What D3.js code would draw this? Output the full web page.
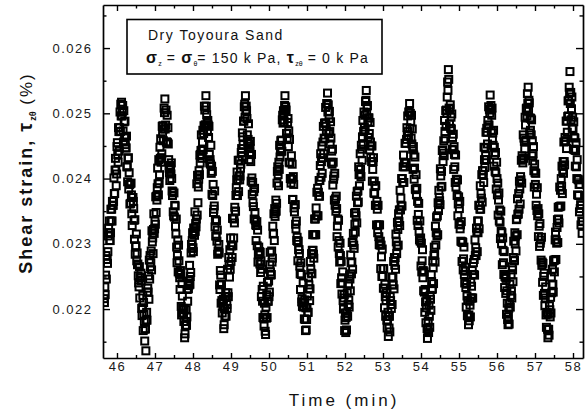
<!DOCTYPE html>
<html>
<head>
<meta charset="utf-8">
<script src="https://cdn.jsdelivr.net/npm/d3@7"></script>
<style>
  html, body { margin: 0; padding: 0; background: #fff; }
  svg { display: block; font-family: "Liberation Sans", Arial, Helvetica, sans-serif; }
</style>
</head>
<body>
<svg id="chart" width="586" height="414"></svg>
<script>
// Shear strain record: [time (min), shear strain in units of 1e-5 %]
const samples = [
[45.66,2216],[45.67,2210],[45.68,2234],[45.69,2222],[45.70,2252],[45.71,2282],[45.72,2246],[45.73,2276],[45.74,2276],[45.75,2270],[45.76,2288],[45.77,2312],[45.78,2324],[45.79,2317],[45.80,2335],[45.81,2305],[45.82,2305],[45.83,2317],[45.84,2353],[45.85,2335],[45.86,2353],[45.87,2335],[45.88,2365],[45.89,2359],[45.90,2359],[45.91,2365],[45.92,2401],[45.93,2377],[45.94,2377],[45.95,2413],[45.96,2431],[45.97,2413],[45.98,2389],[45.99,2407],[46.00,2449],[46.01,2455],[46.02,2437],[46.03,2425],[46.04,2478],[46.05,2472],[46.06,2442],[46.07,2478],[46.08,2502],[46.09,2472],[46.10,2514],[46.11,2496],[46.12,2517],[46.13,2496],
[46.14,2502],[46.15,2512],[46.16,2473],[46.17,2456],[46.18,2504],[46.19,2487],[46.20,2463],[46.21,2488],[46.22,2452],[46.23,2447],[46.24,2447],[46.25,2465],[46.26,2418],[46.27,2418],[46.28,2395],[46.29,2431],[46.30,2432],[46.31,2384],[46.32,2409],[46.33,2391],[46.34,2361],[46.35,2392],[46.36,2362],[46.37,2393],[46.38,2375],[46.39,2346],[46.40,2328],[46.41,2371],[46.42,2371],[46.43,2365],[46.44,2354],[46.45,2336],[46.46,2307],[46.47,2337],[46.48,2284],[46.49,2296],[46.50,2297],[46.51,2315],[46.52,2274],[46.53,2286],[46.54,2268],[46.55,2269],[46.56,2251],[46.57,2240],[46.58,2234],[46.59,2265],[46.60,2217],[46.61,2248],[46.62,2248],[46.63,2255],[46.64,2243],[46.65,2201],[46.66,2190],[46.67,2202],[46.68,2221],[46.69,2167],[46.70,2210],[46.71,2192],[46.72,2181],[46.73,2151],
[46.74,2169],[46.75,2170],[46.76,2136],[46.77,2183],[46.78,2195],[46.79,2183],[46.80,2226],[46.81,2232],[46.82,2226],[46.83,2251],[46.84,2215],[46.85,2275],[46.86,2246],[46.87,2282],[46.88,2265],[46.89,2271],[46.90,2289],[46.91,2260],[46.92,2320],[46.93,2303],[46.94,2309],[46.95,2285],[46.96,2322],[46.97,2346],[46.98,2316],[46.99,2323],[47.00,2335],[47.01,2330],[47.02,2372],[47.03,2348],[47.04,2373],[47.05,2367],[47.06,2386],[47.07,2416],[47.08,2392],[47.09,2375],[47.10,2429],[47.11,2393],[47.12,2406],[47.13,2448],[47.14,2431],[47.15,2461],[47.16,2425],[47.17,2432],[47.18,2438],[47.19,2480],[47.20,2469],[47.21,2481],[47.22,2458],[47.23,2476],[47.24,2508],[47.25,2501],[47.26,2522],
[47.27,2476],[47.28,2482],[47.29,2505],[47.30,2456],[47.31,2456],[47.32,2497],[47.33,2455],[47.34,2478],[47.35,2453],[47.36,2429],[47.37,2416],[47.38,2409],[47.39,2397],[47.40,2420],[47.41,2414],[47.42,2407],[47.43,2424],[47.44,2400],[47.45,2381],[47.46,2374],[47.47,2380],[47.48,2349],[47.49,2343],[47.50,2378],[47.51,2341],[47.52,2359],[47.53,2358],[47.54,2327],[47.55,2315],[47.56,2338],[47.57,2295],[47.58,2271],[47.59,2282],[47.60,2306],[47.61,2257],[47.62,2298],[47.63,2274],[47.64,2255],[47.65,2248],[47.66,2230],[47.67,2259],[47.68,2253],[47.69,2204],[47.70,2191],[47.71,2239],[47.72,2220],[47.73,2201],[47.74,2201],[47.75,2194],[47.76,2181],[47.77,2199],[47.78,2156],
[47.79,2162],[47.80,2175],[47.81,2181],[47.82,2199],[47.83,2175],[47.84,2188],[47.85,2230],[47.86,2212],[47.87,2236],[47.88,2231],[47.89,2243],[47.90,2237],[47.91,2267],[47.92,2238],[47.93,2250],[47.94,2256],[47.95,2286],[47.96,2299],[47.97,2293],[47.98,2305],[47.99,2317],[48.00,2294],[48.01,2288],[48.02,2324],[48.03,2324],[48.04,2313],[48.05,2349],[48.06,2319],[48.07,2331],[48.08,2326],[48.09,2338],[48.10,2392],[48.11,2344],[48.12,2405],[48.13,2363],[48.14,2387],[48.15,2399],[48.16,2412],[48.17,2406],[48.18,2436],[48.19,2424],[48.20,2437],[48.21,2443],[48.22,2467],[48.23,2431],[48.24,2444],[48.25,2456],[48.26,2474],[48.27,2444],[48.28,2469],[48.29,2481],[48.30,2511],[48.31,2505],[48.32,2482],[48.33,2482],[48.34,2527],
[48.35,2511],[48.36,2498],[48.37,2485],[48.38,2472],[48.39,2489],[48.40,2482],[48.41,2463],[48.42,2480],[48.43,2437],[48.44,2424],[48.45,2429],[48.46,2422],[48.47,2451],[48.48,2408],[48.49,2419],[48.50,2376],[48.51,2411],[48.52,2374],[48.53,2391],[48.54,2348],[48.55,2353],[48.56,2358],[48.57,2381],[48.58,2326],[48.59,2337],[48.60,2312],[48.61,2312],[48.62,2335],[48.63,2304],[48.64,2321],[48.65,2284],[48.66,2289],[48.67,2288],[48.68,2299],[48.69,2286],[48.70,2237],[48.71,2230],[48.72,2259],[48.73,2252],[48.74,2209],[48.75,2238],[48.76,2213],[48.77,2194],[48.78,2211],[48.79,2204],[48.80,2215],[48.81,2170],[48.82,2176],
[48.83,2201],[48.84,2189],[48.85,2219],[48.86,2225],[48.87,2189],[48.88,2219],[48.89,2207],[48.90,2201],[48.91,2261],[48.92,2225],[48.93,2219],[48.94,2279],[48.95,2267],[48.96,2249],[48.97,2291],[48.98,2261],[48.99,2309],[49.00,2273],[49.01,2297],[49.02,2297],[49.03,2279],[49.04,2339],[49.05,2297],[49.06,2339],[49.07,2309],[49.08,2338],[49.09,2332],[49.10,2356],[49.11,2350],[49.12,2350],[49.13,2374],[49.14,2386],[49.15,2398],[49.16,2410],[49.17,2374],[49.18,2398],[49.19,2428],[49.20,2380],[49.21,2404],[49.22,2428],[49.23,2398],[49.24,2404],[49.25,2416],[49.26,2422],[49.27,2440],[49.28,2446],[49.29,2434],[49.30,2470],[49.31,2464],[49.32,2452],[49.33,2488],[49.34,2488],[49.35,2510],[49.36,2514],[49.37,2494],[49.38,2527],
[49.39,2505],[49.40,2511],[49.41,2504],[49.42,2492],[49.43,2467],[49.44,2455],[49.45,2460],[49.46,2484],[49.47,2453],[49.48,2429],[49.49,2440],[49.50,2446],[49.51,2457],[49.52,2426],[49.53,2396],[49.54,2437],[49.55,2401],[49.56,2376],[49.57,2394],[49.58,2363],[49.59,2357],[49.60,2380],[49.61,2338],[49.62,2385],[49.63,2348],[49.64,2336],[49.65,2329],[49.66,2305],[49.67,2328],[49.68,2334],[49.69,2297],[49.70,2321],[49.71,2272],[49.72,2284],[49.73,2295],[49.74,2283],[49.75,2288],[49.76,2269],[49.77,2287],[49.78,2256],[49.79,2274],[49.80,2219],[49.81,2261],[49.82,2230],[49.83,2212],[49.84,2187],[49.85,2235],[49.86,2186],[49.87,2174],[49.88,2209],[49.89,2191],[49.90,2166],
[49.91,2161],[49.92,2203],[49.93,2186],[49.94,2222],[49.95,2187],[49.96,2241],[49.97,2212],[49.98,2212],[49.99,2243],[50.00,2219],[50.01,2226],[50.02,2268],[50.03,2287],[50.04,2257],[50.05,2252],[50.06,2253],[50.07,2289],[50.08,2272],[50.09,2278],[50.10,2327],[50.11,2315],[50.12,2316],[50.13,2346],[50.14,2305],[50.15,2354],[50.16,2342],[50.17,2349],[50.18,2367],[50.19,2350],[50.20,2362],[50.21,2393],[50.22,2411],[50.23,2418],[50.24,2406],[50.25,2389],[50.26,2425],[50.27,2414],[50.28,2451],[50.29,2433],[50.30,2446],[50.31,2458],[50.32,2441],[50.33,2459],[50.34,2442],[50.35,2490],[50.36,2497],[50.37,2485],[50.38,2504],[50.39,2498],[50.40,2487],[50.41,2512],[50.42,2527],
[50.43,2506],[50.44,2510],[50.45,2505],[50.46,2469],[50.47,2469],[50.48,2462],[50.49,2486],[50.50,2492],[50.51,2449],[50.52,2473],[50.53,2425],[50.54,2460],[50.55,2424],[50.56,2400],[50.57,2400],[50.58,2393],[50.59,2435],[50.60,2399],[50.61,2422],[50.62,2368],[50.63,2368],[50.64,2403],[50.65,2391],[50.66,2355],[50.67,2349],[50.68,2360],[50.69,2360],[50.70,2330],[50.71,2323],[50.72,2335],[50.73,2305],[50.74,2310],[50.75,2304],[50.76,2274],[50.77,2304],[50.78,2291],[50.79,2291],[50.80,2285],[50.81,2266],[50.82,2254],[50.83,2230],[50.84,2271],[50.85,2253],[50.86,2211],[50.87,2216],[50.88,2204],[50.89,2210],[50.90,2240],[50.91,2203],[50.92,2209],[50.93,2185],[50.94,2214],[50.95,2184],[50.96,2167],
[50.97,2202],[50.98,2168],[50.99,2184],[51.00,2202],[51.01,2220],[51.02,2195],[51.03,2195],[51.04,2249],[51.05,2237],[51.06,2231],[51.07,2213],[51.08,2231],[51.09,2273],[51.10,2261],[51.11,2255],[51.12,2285],[51.13,2254],[51.14,2290],[51.15,2314],[51.16,2290],[51.17,2284],[51.18,2278],[51.19,2314],[51.20,2338],[51.21,2314],[51.22,2338],[51.23,2314],[51.24,2355],[51.25,2343],[51.26,2379],[51.27,2343],[51.28,2385],[51.29,2343],[51.30,2379],[51.31,2373],[51.32,2397],[51.33,2373],[51.34,2397],[51.35,2420],[51.36,2438],[51.37,2402],[51.38,2426],[51.39,2450],[51.40,2408],[51.41,2432],[51.42,2456],[51.43,2480],[51.44,2438],[51.45,2462],[51.46,2485],[51.47,2461],[51.48,2485],[51.49,2509],[51.50,2485],[51.51,2473],[51.52,2515],[51.53,2515],[51.54,2531],
[51.55,2502],[51.56,2513],[51.57,2469],[51.58,2492],[51.59,2503],[51.60,2472],[51.61,2453],[51.62,2487],[51.63,2462],[51.64,2425],[51.65,2442],[51.66,2422],[51.67,2445],[51.68,2390],[51.69,2425],[51.70,2399],[51.71,2404],[51.72,2367],[51.73,2408],[51.74,2359],[51.75,2369],[51.76,2350],[51.77,2373],[51.78,2354],[51.79,2311],[51.80,2327],[51.81,2338],[51.82,2295],[51.83,2336],[51.84,2305],[51.85,2285],[51.86,2272],[51.87,2301],[51.88,2282],[51.89,2239],[51.90,2273],[51.91,2248],[51.92,2223],[51.93,2240],[51.94,2257],[51.95,2213],[51.96,2200],[51.97,2217],[51.98,2222],[51.99,2167],[52.00,2183],[52.01,2194],[52.02,2164],
[52.03,2187],[52.04,2168],[52.05,2194],[52.06,2225],[52.07,2189],[52.08,2207],[52.09,2238],[52.10,2214],[52.11,2203],[52.12,2251],[52.13,2246],[52.14,2228],[52.15,2283],[52.16,2271],[52.17,2254],[52.18,2272],[52.19,2302],[52.20,2261],[52.21,2303],[52.22,2316],[52.23,2298],[52.24,2293],[52.25,2347],[52.26,2330],[52.27,2318],[52.28,2348],[52.29,2343],[52.30,2373],[52.31,2332],[52.32,2380],[52.33,2363],[52.34,2381],[52.35,2364],[52.36,2418],[52.37,2406],[52.38,2389],[52.39,2407],[52.40,2438],[52.41,2414],[52.42,2403],[52.43,2451],[52.44,2445],[52.45,2428],[52.46,2464],[52.47,2489],[52.48,2453],[52.49,2472],[52.50,2502],[52.51,2479],[52.52,2497],[52.53,2474],[52.54,2518],[52.55,2520],[52.56,2535],
[52.57,2499],[52.58,2511],[52.59,2512],[52.60,2487],[52.61,2463],[52.62,2493],[52.63,2493],[52.64,2469],[52.65,2444],[52.66,2486],[52.67,2456],[52.68,2432],[52.69,2450],[52.70,2426],[52.71,2450],[52.72,2396],[52.73,2414],[52.74,2426],[52.75,2432],[52.76,2378],[52.77,2396],[52.78,2377],[52.79,2389],[52.80,2359],[52.81,2389],[52.82,2359],[52.83,2329],[52.84,2365],[52.85,2353],[52.86,2317],[52.87,2359],[52.88,2329],[52.89,2311],[52.90,2299],[52.91,2329],[52.92,2298],[52.93,2304],[52.94,2262],[52.95,2298],[52.96,2280],[52.97,2250],[52.98,2292],[52.99,2250],[53.00,2262],[53.01,2232],[53.02,2262],[53.03,2232],[53.04,2202],[53.05,2238],[53.06,2219],[53.07,2189],[53.08,2213],[53.09,2225],[53.10,2183],[53.11,2171],[53.12,2183],[53.13,2195],[53.14,2158],
[53.15,2189],[53.16,2171],[53.17,2189],[53.18,2165],[53.19,2219],[53.20,2213],[53.21,2207],[53.22,2201],[53.23,2249],[53.24,2207],[53.25,2237],[53.26,2249],[53.27,2237],[53.28,2273],[53.29,2231],[53.30,2279],[53.31,2267],[53.32,2279],[53.33,2261],[53.34,2315],[53.35,2303],[53.36,2285],[53.37,2297],[53.38,2333],[53.39,2322],[53.40,2298],[53.41,2346],[53.42,2334],[53.43,2352],[53.44,2328],[53.45,2382],[53.46,2352],[53.47,2370],[53.48,2358],[53.49,2400],[53.50,2358],[53.51,2400],[53.52,2394],[53.53,2418],[53.54,2436],[53.55,2394],[53.56,2424],[53.57,2418],[53.58,2454],[53.59,2424],[53.60,2454],[53.61,2424],[53.62,2460],[53.63,2478],[53.64,2466],[53.65,2496],[53.66,2472],[53.67,2466],[53.68,2502],[53.69,2502],[53.70,2515],
[53.71,2477],[53.72,2500],[53.73,2487],[53.74,2462],[53.75,2497],[53.76,2453],[53.77,2476],[53.78,2445],[53.79,2414],[53.80,2449],[53.81,2436],[53.82,2399],[53.83,2416],[53.84,2433],[53.85,2384],[53.86,2383],[53.87,2406],[53.88,2375],[53.89,2385],[53.90,2336],[53.91,2365],[53.92,2328],[53.93,2345],[53.94,2362],[53.95,2319],[53.96,2306],[53.97,2335],[53.98,2304],[53.99,2309],[54.00,2266],[54.01,2301],[54.02,2257],[54.03,2274],[54.04,2291],[54.05,2248],[54.06,2259],[54.07,2228],[54.08,2257],[54.09,2226],[54.10,2195],[54.11,2230],[54.12,2211],[54.13,2179],[54.14,2202],[54.15,2213],[54.16,2170],[54.17,2155],[54.18,2168],
[54.19,2181],[54.20,2164],[54.21,2206],[54.22,2189],[54.23,2172],[54.24,2221],[54.25,2215],[54.26,2198],[54.27,2253],[54.28,2242],[54.29,2230],[54.30,2231],[54.31,2274],[54.32,2263],[54.33,2239],[54.34,2282],[54.35,2295],[54.36,2284],[54.37,2272],[54.38,2327],[54.39,2298],[54.40,2317],[54.41,2341],[54.42,2312],[54.43,2343],[54.44,2314],[54.45,2363],[54.46,2351],[54.47,2382],[54.48,2371],[54.49,2366],[54.50,2360],[54.51,2415],[54.52,2404],[54.53,2387],[54.54,2411],[54.55,2388],[54.56,2443],[54.57,2444],[54.58,2426],[54.59,2439],[54.60,2458],[54.61,2435],[54.62,2489],[54.63,2472],[54.64,2461],[54.65,2504],[54.66,2480],[54.67,2505],[54.68,2500],[54.69,2525],[54.70,2548],[54.71,2535],[54.72,2567],
[54.73,2552],[54.74,2508],[54.75,2484],[54.76,2507],[54.77,2513],[54.78,2477],[54.79,2494],[54.80,2476],[54.81,2499],[54.82,2445],[54.83,2463],[54.84,2444],[54.85,2468],[54.86,2414],[54.87,2449],[54.88,2437],[54.89,2418],[54.90,2394],[54.91,2436],[54.92,2387],[54.93,2399],[54.94,2398],[54.95,2374],[54.96,2398],[54.97,2343],[54.98,2361],[54.99,2372],[55.00,2330],[55.01,2354],[55.02,2365],[55.03,2323],[55.04,2329],[55.05,2304],[55.06,2334],[55.07,2303],[55.08,2273],[55.09,2303],[55.10,2302],[55.11,2260],[55.12,2277],[55.13,2295],[55.14,2253],[55.15,2240],[55.16,2258],[55.17,2264],[55.18,2233],[55.19,2203],[55.20,2238],[55.21,2220],[55.22,2190],[55.23,2213],[55.24,2189],[55.25,2176],[55.26,2191],
[55.27,2182],[55.28,2212],[55.29,2206],[55.30,2188],[55.31,2241],[55.32,2217],[55.33,2235],[55.34,2217],[55.35,2259],[55.36,2217],[55.37,2253],[55.38,2271],[55.39,2253],[55.40,2276],[55.41,2252],[55.42,2306],[55.43,2282],[55.44,2294],[55.45,2282],[55.46,2324],[55.47,2318],[55.48,2288],[55.49,2335],[55.50,2317],[55.51,2335],[55.52,2359],[55.53,2323],[55.54,2359],[55.55,2353],[55.56,2389],[55.57,2353],[55.58,2377],[55.59,2370],[55.60,2406],[55.61,2364],[55.62,2412],[55.63,2412],[55.64,2406],[55.65,2394],[55.66,2448],[55.67,2429],[55.68,2417],[55.69,2447],[55.70,2435],[55.71,2471],[55.72,2429],[55.73,2477],[55.74,2471],[55.75,2453],[55.76,2489],[55.77,2482],[55.78,2510],[55.79,2482],[55.80,2506],[55.81,2500],[55.82,2528],
[55.83,2505],[55.84,2512],[55.85,2473],[55.86,2497],[55.87,2508],[55.88,2459],[55.89,2470],[55.90,2451],[55.91,2474],[55.92,2419],[55.93,2448],[55.94,2436],[55.95,2411],[55.96,2440],[55.97,2409],[55.98,2384],[55.99,2425],[56.00,2400],[56.01,2375],[56.02,2393],[56.03,2344],[56.04,2367],[56.05,2378],[56.06,2335],[56.07,2352],[56.08,2333],[56.09,2308],[56.10,2350],[56.11,2319],[56.12,2300],[56.13,2317],[56.14,2268],[56.15,2309],[56.16,2290],[56.17,2271],[56.18,2253],[56.19,2288],[56.20,2233],[56.21,2250],[56.22,2249],[56.23,2224],[56.24,2247],[56.25,2192],[56.26,2228],[56.27,2209],[56.28,2184],[56.29,2176],[56.30,2188],
[56.31,2201],[56.32,2177],[56.33,2208],[56.34,2238],[56.35,2203],[56.36,2221],[56.37,2252],[56.38,2228],[56.39,2217],[56.40,2265],[56.41,2260],[56.42,2242],[56.43,2279],[56.44,2304],[56.45,2274],[56.46,2275],[56.47,2317],[56.48,2300],[56.49,2312],[56.50,2289],[56.51,2337],[56.52,2338],[56.53,2314],[56.54,2369],[56.55,2345],[56.56,2346],[56.57,2377],[56.58,2353],[56.59,2396],[56.60,2384],[56.61,2361],[56.62,2403],[56.63,2398],[56.64,2428],[56.65,2393],[56.66,2435],[56.67,2430],[56.68,2424],[56.69,2467],[56.70,2431],[56.71,2462],[56.72,2457],[56.73,2445],[56.74,2494],[56.75,2482],[56.76,2459],[56.77,2507],[56.78,2508],[56.79,2496],[56.80,2530],[56.81,2515],[56.82,2540],
[56.83,2503],[56.84,2520],[56.85,2516],[56.86,2470],[56.87,2493],[56.88,2474],[56.89,2492],[56.90,2467],[56.91,2490],[56.92,2435],[56.93,2458],[56.94,2427],[56.95,2438],[56.96,2449],[56.97,2412],[56.98,2387],[56.99,2422],[57.00,2409],[57.01,2391],[57.02,2408],[57.03,2359],[57.04,2376],[57.05,2351],[57.06,2386],[57.07,2343],[57.08,2354],[57.09,2311],[57.10,2346],[57.11,2327],[57.12,2296],[57.13,2331],[57.14,2301],[57.15,2306],[57.16,2275],[57.17,2310],[57.18,2267],[57.19,2272],[57.20,2241],[57.21,2270],[57.22,2221],[57.23,2250],[57.24,2255],[57.25,2224],[57.26,2205],[57.27,2217],[57.28,2234],[57.29,2191],[57.30,2172],[57.31,2195],[57.32,2194],[57.33,2169],[57.34,2156],
[57.35,2192],[57.36,2169],[57.37,2160],[57.38,2205],[57.39,2199],[57.40,2188],[57.41,2218],[57.42,2194],[57.43,2249],[57.44,2225],[57.45,2237],[57.46,2261],[57.47,2238],[57.48,2226],[57.49,2274],[57.50,2275],[57.51,2257],[57.52,2275],[57.53,2306],[57.54,2318],[57.55,2276],[57.56,2306],[57.57,2301],[57.58,2325],[57.59,2337],[57.60,2302],[57.61,2356],[57.62,2338],[57.63,2332],[57.64,2357],[57.65,2387],[57.66,2357],[57.67,2382],[57.68,2358],[57.69,2400],[57.70,2388],[57.71,2419],[57.72,2377],[57.73,2413],[57.74,2426],[57.75,2408],[57.76,2456],[57.77,2426],[57.78,2421],[57.79,2463],[57.80,2457],[57.81,2458],[57.82,2488],[57.83,2446],[57.84,2488],[57.85,2471],[57.86,2495],[57.87,2519],[57.88,2496],[57.89,2520],[57.90,2540],[57.91,2532],[57.92,2564],
[57.93,2515],[57.94,2532],[57.95,2490],[57.96,2507],[57.97,2525],[57.98,2477],[57.99,2494],[58.00,2476],[58.01,2445],[58.02,2487],[58.03,2463],[58.04,2444],[58.05,2462],[58.06,2419],[58.07,2443],[58.08,2455],[58.09,2418],[58.10,2400],[58.11,2429],[58.12,2375],[58.13,2399],[58.14,2398],[58.15,2374],[58.16,2391],[58.17,2349],[58.18,2391],[58.19,2354],[58.20,2360],[58.21,2329],[58.22,2359],[58.23,2335],[58.24,2316],[58.25,2334]
];
const strainUnit = 1e-5; // stored values are in 1e-5 %

const xTickValues = [46, 47, 48, 49, 50, 51, 52, 53, 54, 55, 56, 57, 58];
const yTickValues = [0.022, 0.023, 0.024, 0.025, 0.026];
const yTickLabels = ["0.022", "0.023", "0.024", "0.025", "0.026"];
const xDomain = [45.632, 58.263];
const yDomain = [0.02125, 0.02666];

const legendTitle = "Dry Toyoura Sand";
const xTitle = "Time (min)";

const svg = d3.select("#chart");
const plot = { left: 103, right: 583, top: 5, bottom: 358 };

const x = d3.scaleLinear().domain(xDomain).range([plot.left, plot.right]);
const y = d3.scaleLinear().domain(yDomain).range([plot.bottom, plot.top]);

svg.append("rect").attr("width", 586).attr("height", 414).attr("fill", "#fff");

svg.append("defs").append("clipPath").attr("id", "plotClip")
  .append("rect")
  .attr("x", plot.left).attr("y", plot.top)
  .attr("width", plot.right - plot.left).attr("height", plot.bottom - plot.top);

// open square markers
const sq = 7;
svg.append("g").attr("clip-path", "url(#plotClip)")
  .selectAll("rect").data(samples).join("rect")
  .attr("x", d => x(d[0]) - sq / 2)
  .attr("y", d => y(d[1] * strainUnit) - sq / 2)
  .attr("width", sq).attr("height", sq)
  .attr("fill", "none")
  .attr("stroke", "#000")
  .attr("stroke-width", 2);

// minor tick positions
const xMinor = d3.range(45.5, 58.6, 1).filter(v => v > xDomain[0] && v < xDomain[1]);
const yMinor = d3.range(0.0215, 0.0266, 0.001);

function styleAxis(g) {
  g.selectAll("path.domain").attr("stroke", "#000").attr("stroke-width", 1.7);
  g.selectAll(".tick line").attr("stroke", "#000").attr("stroke-width", 1.4);
}

// bottom axis
const gBottom = svg.append("g").attr("transform", `translate(0,${plot.bottom})`)
  .call(d3.axisBottom(x).tickValues(xTickValues).tickFormat(d3.format("d"))
    .tickSizeInner(-5).tickSizeOuter(0).tickPadding(4));
styleAxis(gBottom);
gBottom.selectAll("text")
  .attr("font-size", 13).attr("fill", "#1a1a1a")
  .attr("font-family", "'Liberation Sans', Arial, sans-serif")
  .style("letter-spacing", "1.5px");
svg.append("g").attr("transform", `translate(0,${plot.bottom})`)
  .call(d3.axisBottom(x).tickValues(xMinor).tickFormat("").tickSizeInner(-3).tickSizeOuter(0))
  .call(g => { g.select("path.domain").remove(); styleAxis(g); });

// top axis
const gTop = svg.append("g").attr("transform", `translate(0,${plot.top})`)
  .call(d3.axisTop(x).tickValues(xTickValues).tickFormat("").tickSizeInner(-6).tickSizeOuter(0));
styleAxis(gTop);
svg.append("g").attr("transform", `translate(0,${plot.top})`)
  .call(d3.axisTop(x).tickValues(xMinor).tickFormat("").tickSizeInner(-3.5).tickSizeOuter(0))
  .call(g => { g.select("path.domain").remove(); styleAxis(g); });

// left axis
const gLeft = svg.append("g").attr("transform", `translate(${plot.left},0)`)
  .call(d3.axisLeft(y).tickValues(yTickValues).tickFormat((d, i) => yTickLabels[i])
    .tickSizeInner(-7).tickSizeOuter(0).tickPadding(10.5));
styleAxis(gLeft);
gLeft.selectAll("text")
  .attr("font-size", 13).attr("fill", "#1a1a1a")
  .attr("font-family", "'Liberation Sans', Arial, sans-serif")
  .style("letter-spacing", "1.5px");
svg.append("g").attr("transform", `translate(${plot.left},0)`)
  .call(d3.axisLeft(y).tickValues(yMinor).tickFormat("").tickSizeInner(-3.5).tickSizeOuter(0))
  .call(g => { g.select("path.domain").remove(); styleAxis(g); });

// right axis
const gRight = svg.append("g").attr("transform", `translate(${plot.right},0)`)
  .call(d3.axisRight(y).tickValues(yTickValues).tickFormat("").tickSizeInner(-7).tickSizeOuter(0));
styleAxis(gRight);
svg.append("g").attr("transform", `translate(${plot.right},0)`)
  .call(d3.axisRight(y).tickValues(yMinor).tickFormat("").tickSizeInner(-3.5).tickSizeOuter(0))
  .call(g => { g.select("path.domain").remove(); styleAxis(g); });

// x title
svg.append("text")
  .attr("x", 344).attr("y", 406)
  .attr("text-anchor", "middle")
  .attr("font-size", 17).attr("fill", "#111")
  .style("letter-spacing", "3px")
  .text(xTitle);

// y title (rotated)
const yt = svg.append("text")
  .attr("transform", "translate(32,173) rotate(-90)")
  .attr("text-anchor", "middle")
  .attr("font-size", 18).attr("fill", "#111")
  .style("letter-spacing", "2px");
yt.append("tspan").attr("font-weight", "bold").text("Shear strain, ");
yt.append("tspan").attr("font-weight", "bold").attr("font-size", 20).text("τ");
yt.append("tspan").attr("font-weight", "bold").attr("font-size", 9).attr("dy", 4).style("letter-spacing", "0px").text("zθ");
yt.append("tspan").attr("dy", -4).attr("font-size", 17).text(" (%)");

// legend box
svg.append("rect")
  .attr("x", 127).attr("y", 19.5).attr("width", 255).attr("height", 54.5)
  .attr("fill", "#fff").attr("stroke", "#000").attr("stroke-width", 1.6);

svg.append("text")
  .attr("x", 148).attr("y", 40)
  .attr("font-size", 14).attr("fill", "#111")
  .style("letter-spacing", "1.5px")
  .text(legendTitle);

const l2 = svg.append("text")
  .attr("x", 146).attr("y", 63)
  .attr("font-size", 14).attr("fill", "#111")
  .style("letter-spacing", "1.2px");
function sub(sel, s) {
  sel.append("tspan").attr("font-size", 7).attr("dy", 3).style("letter-spacing", "0px").text(s);
}
l2.append("tspan").attr("font-weight", "bold").attr("font-size", 16).text("σ");
sub(l2, "z");
l2.append("tspan").attr("dy", -3).text(" = ");
l2.append("tspan").attr("font-weight", "bold").attr("font-size", 16).text("σ");
sub(l2, "θ");
l2.append("tspan").attr("dy", -3).text("= 150 k Pa, ");
l2.append("tspan").attr("font-weight", "bold").attr("font-size", 16).text("τ");
sub(l2, "zθ");
l2.append("tspan").attr("dy", -3).text(" = 0 k Pa");
</script>
</body>
</html>
